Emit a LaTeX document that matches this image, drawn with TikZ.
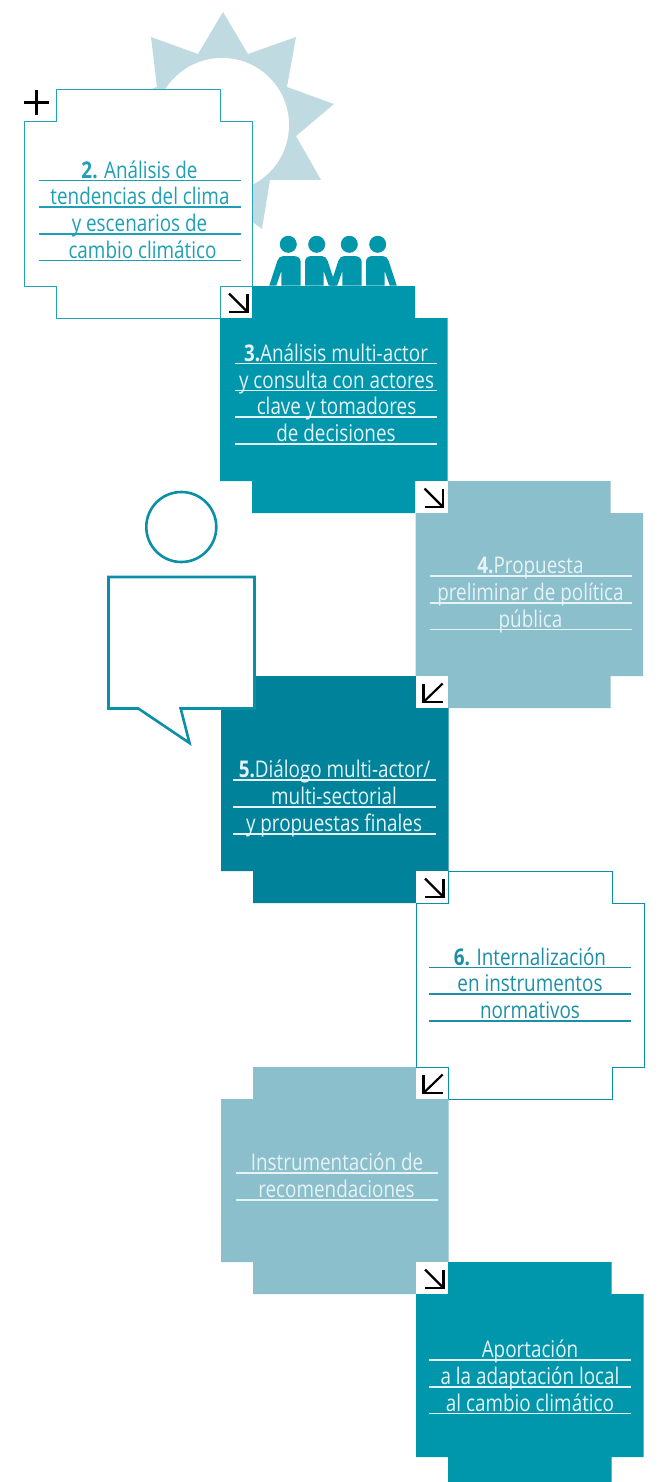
\documentclass[tikz,border=0pt]{standalone}
\usepackage{fontspec}
\setmainfont{Open Sans}[FakeStretch=0.82]
\definecolor{tealA}{HTML}{0097AC}
\definecolor{tealB}{HTML}{00829A}
\definecolor{paleT}{HTML}{8BBFCC}
\definecolor{sunC}{HTML}{C0DAE2}
\definecolor{lineA}{HTML}{22A3B7}
\definecolor{lineB}{HTML}{0A90A6}
\definecolor{inkA}{HTML}{1E9FB3}
\definecolor{inkB}{HTML}{1C8FA6}
\definecolor{inkW}{HTML}{E6F3F6}
\newcommand{\crossat}[2]{(#1+32,#2)--(#1+195,#2)--(#1+195,#2+32)--(#1+227.5,#2+32)--(#1+227.5,#2+195)--(#1+195,#2+195)--(#1+195,#2+227)--(#1+32,#2+227)--(#1+32,#2+195)--(#1,#2+195)--(#1,#2+32)--(#1+32,#2+32)--cycle}
% one text line with its rule: name, centre x, rule y, rule start, rule end, colour, text
\newcommand{\tline}[7]{%
  \node[txt,text=#6] (#1) at (#2,#3-2.3) {#7};
  \coordinate (#1a) at (#4,#3);
  \coordinate (#1b) at (#5,#3);
  \draw[#6,line width=1.15pt] (#1a) -- (#1b);
}
\newcommand{\seArrow}[3]{%
  \node[sq] (#1) at (#2+16,#3+16) {};
  \draw[arr] (#2+9,#3+7.5)--(#2+27.5,#3+26);
  \draw[arr] (#2+9,#3+26)--(#2+27.5,#3+26)--(#2+27.5,#3+7.5);
}
\newcommand{\swArrow}[3]{%
  \node[sq] (#1) at (#2+16,#3+16) {};
  \draw[arr] (#2+26.7,#3+7.5)--(#2+7.5,#3+26);
  \draw[arr] (#2+26.7,#3+26)--(#2+7.5,#3+26)--(#2+7.5,#3+7.5);
}
\newcommand{\personR}[1]{%
  \fill[tealA] (#1-11.7,285.5)--(#1-11.7,262) .. controls (#1-11.7,258) and (#1-9,256) .. (#1-5,256)--(#1+5,256) .. controls (#1+8,256) and (#1+10,258) .. (#1+11,261)--(#1+19,285.5)--(#1+12,285.5)--(#1+7,271)--(#1+7,285.5)--cycle;
}
\newcommand{\personL}[1]{%
  \fill[tealA] (#1+12.4,285.5)--(#1+12.4,262) .. controls (#1+12.4,258) and (#1+9,256) .. (#1+5,256)--(#1-5,256) .. controls (#1-8,256) and (#1-10,258) .. (#1-11,261)--(#1-19,285.5)--(#1-12,285.5)--(#1-7,271)--(#1-7,285.5)--cycle;
}
\tikzset{
  txt/.style={inner sep=0pt,outer sep=0pt,anchor=base,font=\fontsize{23}{27}\selectfont},
  sq/.style={fill=white,draw=none,minimum size=32pt,inner sep=0pt,outer sep=0pt},
  arr/.style={draw=black,line width=2.2pt,miter limit=10},
  head/.style={circle,fill=tealA,minimum size=17pt,inner sep=0pt,outer sep=0pt},
  speech/.style={draw=lineB,fill=white,line width=2.6pt,miter limit=10},
}
\begin{document}
\begin{tikzpicture}[x=1pt,y=-1pt]
\useasboundingbox (0,0) rectangle (660,1482);
\fill[white] (0,0) rectangle (660,1482);
% sun
\fill[sunC] (223,12)--(248,54)--(296,37)--(287,87)--(334,104)--(296,136)--(321,180)--(270,180)--(262,229)--(223,200)--(174,229)--(172,180)--(123,180)--(148,136)--(110,104)--(157,87)--(151,37)--(198,54)--cycle;
\fill[white] (222,125) circle (67);
% box 2
\draw[draw=lineA,fill=white,line width=1pt] (56,90)--(220,90)--(220,122)--(252,122)--(252,286)--(220,286)--(220,318)--(56,318)--(56,286)--(24,286)--(24,122)--(56,122)--cycle;
% people
\node[head] (h1) at (288.3,244.3) {};
\node[head] (h2) at (316.7,244.3) {};
\node[head] (h3) at (349.3,244.3) {};
\node[head] (h4) at (377.7,244.3) {};
\personL{288.3}\personR{316.7}\personL{349.3}\personR{377.7}
% filled boxes
\fill[tealA] \crossat{220}{286};
\fill[paleT] \crossat{415.7}{481};
\fill[tealB] \crossat{221}{676};
\draw[draw=lineB,fill=white,line width=1pt] (448,871)--(612,871)--(612,903)--(644,903)--(644,1067)--(612,1067)--(612,1099)--(448,1099)--(448,1067)--(416,1067)--(416,903)--(448,903)--cycle;
\fill[paleT] \crossat{221}{1067};
\fill[tealA] (448,1262)--(611.5,1262)--(611.5,1294)--(643.7,1294)--(643.7,1457)--(611.5,1457)--(611.5,1482)--(448,1482)--(448,1457)--(416,1457)--(416,1294)--(448,1294)--cycle;
% person with speech bubble
\node[circle,draw=lineB,line width=2.6pt,minimum size=70pt,inner sep=0pt,outer sep=0pt] (pers) at (181.3,527) {};
\draw[speech] (108.5,577)--(254.5,577)--(254.5,708.5)--(180.7,708.5)--(189.5,743)--(138.3,708.5)--(108.5,708.5)--cycle;
% plus
\coordinate (pa) at (24,102.7); \coordinate (pb) at (48.7,102.7);
\coordinate (pc) at (36.3,90); \coordinate (pd) at (36.3,115);
\draw[black,line width=3pt] (pa)--(pb) (pc)--(pd);
% arrow squares
\seArrow{s1}{220}{286}
\seArrow{s2}{415.5}{481}
\swArrow{s3}{416}{676}
\seArrow{s4}{416}{871}
\swArrow{s5}{416}{1067}
\seArrow{s6}{416}{1262}
% outlined edges of the squares that border the open boxes
\draw[lineA,line width=1pt] (s1.south west)--(s1.north west)--(s1.north east);
\draw[lineB,line width=1pt] (s4.north east)--(s4.south east)--(s4.south west);
\draw[lineB,line width=1pt] (s5.north west)--(s5.north east)--(s5.south east);
% texts
\tline{a1}{139.5}{180.7}{39}{241}{inkA}{\textbf{2.} Análisis de}
\tline{a2}{140}{207}{39}{241}{inkA}{tendencias del clima}
\tline{a3}{139.5}{234}{39}{241}{inkA}{y escenarios de}
\tline{a4}{142.5}{260.5}{39}{241}{inkA}{cambio climático}
\tline{b1}{336}{363.7}{235}{437}{inkW}{\textbf{3.}Análisis multi-actor}
\tline{b2}{336.5}{390.5}{235}{437}{inkW}{y consulta con actores}
\tline{b3}{336.5}{417}{235}{437}{inkW}{clave y tomadores}
\tline{b4}{336}{444}{235}{437}{inkW}{de decisiones}
\tline{c1}{530.5}{576}{430}{632}{inkW}{\textbf{4.}Propuesta}
\tline{c2}{530.5}{603}{430}{632}{inkW}{preliminar de política}
\tline{c3}{530.5}{629.5}{430}{632}{inkW}{pública}
\tline{d1}{334.5}{780}{233}{436}{inkW}{\textbf{5.}Diálogo multi-actor/}
\tline{d2}{334}{807}{233}{436}{inkW}{multi-sectorial}
\tline{d3}{334}{834}{233}{436}{inkW}{y propuestas finales}
\tline{e1}{530}{967.7}{429}{631}{inkB}{\textbf{6.} Internalización}
\tline{e2}{530}{994}{429}{631}{inkB}{en instrumentos}
\tline{e3}{530}{1021}{429}{631}{inkB}{normativos}
\tline{f1}{337}{1173}{236}{438}{inkW}{Instrumentación de}
\tline{f2}{336.5}{1200}{236}{438}{inkW}{recomendaciones}
\tline{g1}{530}{1360}{429}{631}{inkW}{Aportación}
\tline{g2}{530}{1387}{429}{631}{inkW}{a la adaptación local}
\tline{g3}{530}{1413.5}{429}{631}{inkW}{al cambio climático}
\end{tikzpicture}
\end{document}
